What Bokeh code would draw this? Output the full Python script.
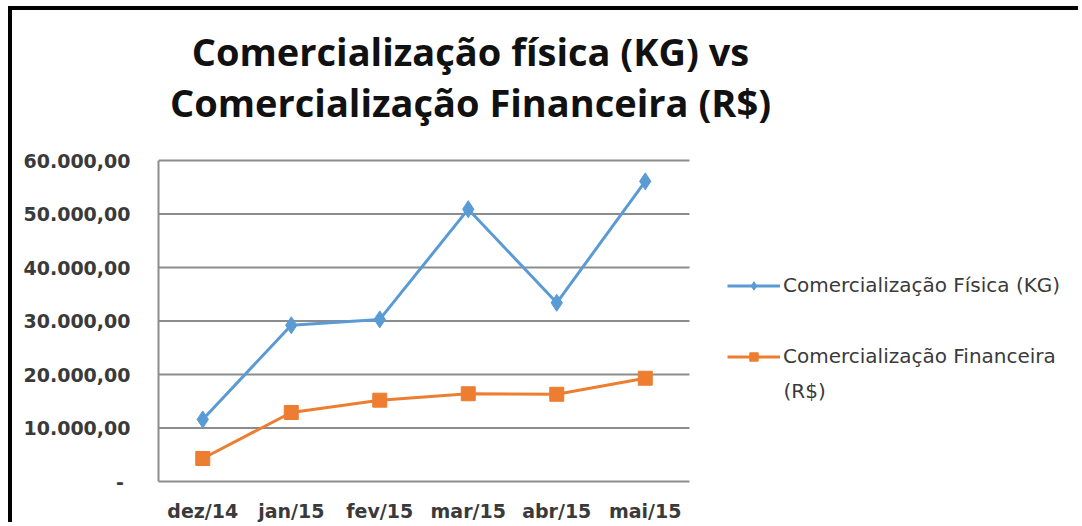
from bokeh.plotting import figure
from bokeh.models import (Range1d, FixedTicker, Label, Legend, LegendItem)
from bokeh.embed import file_html
from bokeh.resources import INLINE

categories = ["dez/14", "jan/15", "fev/15", "mar/15", "abr/15", "mai/15"]
fisica_kg = [11600, 29200, 30300, 50900, 33400, 56100]
financeira_rs = [4300, 12900, 15200, 16400, 16300, 19300]
y_ticks = [0, 10000, 20000, 30000, 40000, 50000, 60000]
y_tick_labels = ["-\u00a0", "10.000,00", "20.000,00", "30.000,00",
                 "40.000,00", "50.000,00", "60.000,00"]
title_lines = ["Comercialização física (KG) vs", "Comercialização Financeira (R$)"]
series_names = ["Comercialização Física (KG)", "Comercialização Financeira", "(R$)"]

BLUE = "#5B9BD5"
ORANGE = "#ED7D31"
GRID = "#8c8c8c"
TXT = "#3a3a3a"
FONT = "DejaVu Sans"

xpos = list(range(len(categories)))
x_lo, x_hi = -0.5, len(categories) - 0.5

# frame spans from the axis area to the right/top edges; the chart itself occupies
# the categories band [-0.5, 5.5] x [0, 60000]
p = figure(width=1070, height=516, x_range=Range1d(x_lo, x_lo + 924 / 88.5),
           y_range=Range1d(0, 60000 * 471 / 321), output_backend="svg",
           toolbar_location=None, min_border_left=146, min_border_right=0,
           min_border_top=0, min_border_bottom=45)
p.styles = {"margin-left": "8px", "margin-top": "6px",
            "border-left": "4px solid black", "border-top": "4px solid black"}
p.outline_line_color = None
p.background_fill_color = "white"
p.border_fill_color = "white"
p.grid.grid_line_color = None

p.xaxis.ticker = FixedTicker(ticks=xpos)
p.xaxis.major_label_overrides = {i: c for i, c in zip(xpos, categories)}
p.xaxis.bounds = (x_lo, x_hi)
p.yaxis.ticker = FixedTicker(ticks=y_ticks)
p.yaxis.major_label_overrides = {t: l for t, l in zip(y_ticks, y_tick_labels)}
p.yaxis.bounds = (y_ticks[0], y_ticks[-1])
for ax in (p.xaxis[0], p.yaxis[0]):
    ax.axis_line_color = GRID
    ax.axis_line_width = 2
    ax.major_tick_line_color = None
    ax.minor_tick_line_color = None
    ax.major_label_text_font = FONT
    ax.major_label_text_font_size = "19px"
    ax.major_label_text_color = TXT
    ax.major_label_text_font_style = "bold"
p.yaxis.major_label_standoff = 22
p.xaxis.major_label_standoff = 12

# horizontal grid lines limited to the categories band
p.segment(x0=x_lo, x1=x_hi, y0=y_ticks[1:], y1=y_ticks[1:], line_color=GRID,
          line_width=2, level="underlay")

r1 = p.line(xpos, fisica_kg, line_color=BLUE, line_width=3)
m1 = p.scatter(xpos, fisica_kg, marker="diamond", size=17, fill_color=BLUE,
               line_color=BLUE)
r2 = p.line(xpos, financeira_rs, line_color=ORANGE, line_width=3)
m2 = p.scatter(xpos, financeira_rs, marker="square", size=14, fill_color=ORANGE,
               line_color=ORANGE)

legend = Legend(items=[LegendItem(label=series_names[0], renderers=[r1, m1]),
                       LegendItem(label=series_names[1], renderers=[r2, m2])],
                location=(569, 113), orientation="vertical")
legend.border_line_color = None
legend.background_fill_alpha = 0
legend.padding = 0
legend.margin = 0
legend.spacing = 47
legend.glyph_width = 53
legend.glyph_height = 21
legend.label_standoff = 3
legend.label_text_font = FONT
legend.label_text_font_size = "20px"
legend.label_text_color = TXT
legend.label_height = 21
p.add_layout(legend)

p.add_layout(Label(x=625, y=91, x_units="screen", y_units="screen", text=series_names[2],
                   text_baseline="middle", text_align="left", text_font=FONT,
                   text_font_size="20px", text_color=TXT))

for txt, yb in zip(title_lines, [431, 380]):
    p.add_layout(Label(x=312, y=yb, x_units="screen", y_units="screen", text=txt,
                       text_align="center", text_baseline="alphabetic",
                       text_font="Open Sans", text_font_size="38px",
                       text_font_style="bold", text_color="#111111"))

open("out.html", "w").write(file_html(p, INLINE))
